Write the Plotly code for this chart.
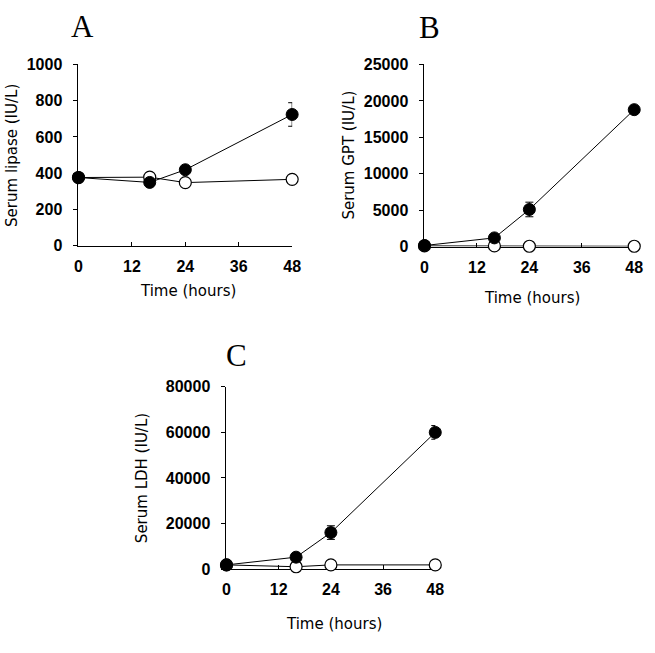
import plotly.graph_objects as go

hours = [0, 16, 24, 48]
x_ticks = [0, 12, 24, 36, 48]

lipase_treated = [376, 349, 419, 724]
lipase_treated_err = [10, 10, 15, 65]
lipase_control = [376, 378, 348, 366]

gpt_treated = [150, 1200, 5100, 18800]
gpt_treated_err = [50, 300, 1000, 400]
gpt_control = [100, 100, 50, 50]

ldh_treated = [1800, 5200, 16000, 60000]
ldh_treated_err = [300, 800, 3000, 3000]
ldh_control = [1800, 1000, 1800, 1800]

W, H = 655, 653
def px(x): return x / W
def py(y): return 1 - y / H

panels = [
    dict(ax="", yt=lipase_control, yf=lipase_treated, ef=lipase_treated_err,
         xd=[px(76), px(294)], yd=[py(244), py(58)], yr=[0, 1000], dt=200,
         letter="A", lx=80, ly=19, ytitle="Serum lipase (IU/L)", ytx=8, xtitle_y=291),
    dict(ax="2", yt=gpt_control, yf=gpt_treated, ef=gpt_treated_err,
         xd=[px(429), px(643)], yd=[py(245), py(58)], yr=[0, 25000], dt=5000,
         letter="B", lx=434, ly=20, ytitle="Serum GPT (IU/L)", ytx=352, xtitle_y=298),
    dict(ax="3", yt=ldh_control, yf=ldh_treated, ef=ldh_treated_err,
         xd=[px(227), px(440)], yd=[py(576), py(389)], yr=[0, 80000], dt=20000,
         letter="C", lx=237, ly=357, ytitle="Serum LDH (IU/L)", ytx=141, xtitle_y=632),
]

fig = go.Figure()
layout = dict(width=W, height=H, margin=dict(l=0, r=0, t=0, b=0),
              paper_bgcolor="white", plot_bgcolor="white", showlegend=False)
annotations = []
tickfont = dict(family="Liberation Sans, Arial, sans-serif", size=16, color="black", weight="bold")
titlefont = dict(family="DejaVu Sans, sans-serif", size=15, color="black")

for p in panels:
    xa = "x" + p["ax"]
    ya = "y" + p["ax"]
    fig.add_trace(go.Scatter(x=hours, y=p["yt"], xaxis=xa, yaxis=ya, mode="lines+markers",
                             line=dict(color="black", width=1),
                             marker=dict(size=12, color="white", line=dict(color="black", width=1.2)),
                             cliponaxis=False))
    fig.add_trace(go.Scatter(x=hours, y=p["yf"], xaxis=xa, yaxis=ya, mode="lines+markers",
                             line=dict(color="black", width=1),
                             marker=dict(size=12, color="black", line=dict(color="black", width=1)),
                             error_y=dict(type="data", array=p["ef"], color="black", thickness=1, width=4),
                             cliponaxis=False))
    layout["xaxis" + p["ax"]] = dict(domain=p["xd"], anchor=ya, range=[0, 48], tickvals=x_ticks,
                                     ticks="inside", ticklen=4, tickcolor="black", showgrid=False,
                                     zeroline=False, showline=True, linecolor="black", linewidth=1,
                                     tickfont=tickfont, ticklabelstandoff=6, layer="below traces")
    layout["yaxis" + p["ax"]] = dict(domain=p["yd"], anchor=xa, range=p["yr"], dtick=p["dt"],
                                     tickformat="d",
                                     ticks="outside", ticklen=4, tickcolor="black", showgrid=False,
                                     zeroline=False, showline=True, linecolor="black", linewidth=1,
                                     tickfont=tickfont, ticklabelstandoff=8, layer="below traces")
    annotations.append(dict(text=p["letter"], x=px(p["lx"]), y=py(p["ly"]), xref="paper", yref="paper",
                            showarrow=False, xanchor="center", yanchor="middle",
                            font=dict(family="Liberation Serif, Times New Roman, serif", size=31, color="black")))
    annotations.append(dict(text=p["ytitle"], x=px(p["ytx"]), y=(p["yd"][0] + p["yd"][1]) / 2,
                            xref="paper", yref="paper", showarrow=False, textangle=-90,
                            xanchor="center", yanchor="middle", font=titlefont))
    annotations.append(dict(text="Time (hours)", x=(p["xd"][0] + p["xd"][1]) / 2 + px(3), y=py(p["xtitle_y"]),
                            xref="paper", yref="paper", showarrow=False,
                            xanchor="center", yanchor="middle", font=titlefont))

layout["annotations"] = annotations
fig.update_layout(**layout)
fig.write_html("out.html")
